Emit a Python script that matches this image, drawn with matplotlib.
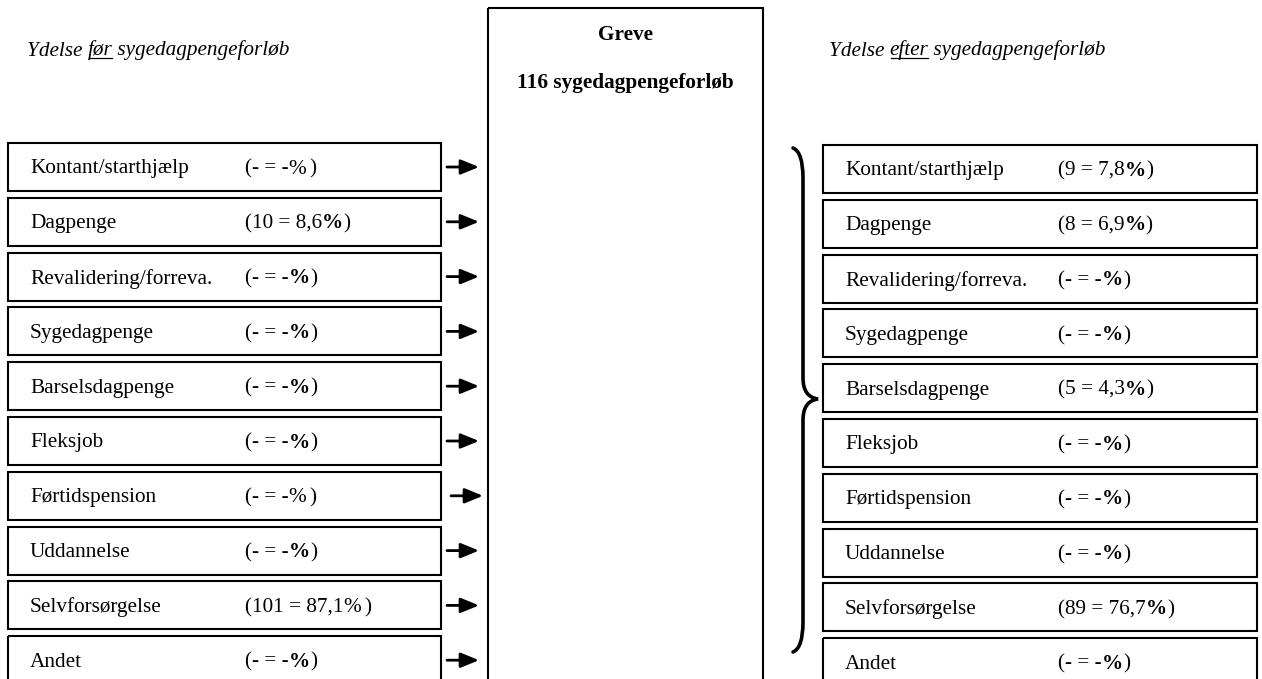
import matplotlib.pyplot as plt
from matplotlib.patches import Rectangle, PathPatch
from matplotlib.path import Path

#===== DATA =======================================#
kommune = 'Greve'
total_forloeb = 116
categories = ['Kontant/starthjælp', 'Dagpenge', 'Revalidering/forreva.', 'Sygedagpenge',
              'Barselsdagpenge', 'Fleksjob', 'Førtidspension', 'Uddannelse',
              'Selvforsørgelse', 'Andet']
before_n = [None, 10, None, None, None, None, None, None, 101, None]
before_pct = [None, '8,6', None, None, None, None, None, None, '87,1', None]
before_bold_pct = [False, True, True, True, True, True, False, True, False, True]
after_n = [9, 8, None, None, 5, None, None, None, 89, None]
after_pct = ['7,8', '6,9', None, None, '4,3', None, None, None, '76,7', None]
after_bold_pct = [True] * 10

#===== STYLE ======================================#
plt.rcParams['font.family'] = ['Liberation Serif', 'DejaVu Serif']
FS = 15.3
W, H = 1262, 679

fig = plt.figure(figsize=(W / 100, H / 100), dpi=100)
ax = fig.add_axes([0, 0, 1, 1])
ax.set_xlim(0, W)
ax.set_ylim(H, 0)
ax.axis('off')

row_top0 = 143
row_step = 54.8
row_h = 48
text_dy = 2  # glyphs sit a bit lower than the bbox centre
left_x0, left_x1 = 8, 441
right_x0, right_x1 = 823, 1257
center_x0, center_x1 = 488, 763


#===== FUNCTIONS ==================================#
#-- "(n = p%)" with an optional bold percent sign
def value_parts(ax, x, y, n, pct, bold):
    num = '-' if n is None else str(n)
    p = '-' if pct is None else pct
    t = ax.text(x, y, f'({num} = {p}', fontsize=FS, va='center', ha='left')
    t2 = ax.annotate('%', xy=(1, 0), xycoords=t, va='bottom', ha='left',
                     fontsize=FS, fontweight='bold' if bold else 'normal')
    ax.annotate(')', xy=(1, 0), xycoords=t2, xytext=(0 if bold else 2, 0),
                textcoords='offset points', va='bottom', ha='left', fontsize=FS)


#===== PROGRAM ====================================#
for i, cat in enumerate(categories):
    top = row_top0 + i * row_step
    yc = top + row_h / 2
    # left box
    ax.add_patch(Rectangle((left_x0, top), left_x1 - left_x0, row_h, fill=False,
                           lw=1.5, ec='black'))
    ax.text(left_x0 + 22, yc + text_dy, cat, fontsize=FS, va='center', ha='left')
    value_parts(ax, 245, yc + text_dy, before_n[i], before_pct[i], before_bold_pct[i])
    # arrow to center box
    ax0 = 447 if cat != 'Førtidspension' else 451
    ax.annotate('', xy=(ax0 + 32, yc), xytext=(ax0, yc),
                arrowprops=dict(arrowstyle='-|>,head_length=1.1,head_width=0.45',
                                lw=2, color='black', shrinkA=0, shrinkB=0))
    # right box
    rtop = top + 2
    ryc = rtop + row_h / 2
    ax.add_patch(Rectangle((right_x0, rtop), right_x1 - right_x0, row_h, fill=False,
                           lw=1.5, ec='black'))
    ax.text(right_x0 + 22, ryc + text_dy, cat, fontsize=FS, va='center', ha='left')
    value_parts(ax, 1058, ryc + text_dy, after_n[i], after_pct[i], after_bold_pct[i])

#-- center box
ax.add_patch(Rectangle((center_x0, 8), center_x1 - center_x0, H + 20, fill=False,
                       lw=1.5, ec='black'))
cx = (center_x0 + center_x1) / 2
ax.text(cx, 35, kommune, fontsize=FS, fontweight='bold', ha='center', va='center')
ax.text(cx, 83, f'{total_forloeb} sygedagpengeforløb', fontsize=FS, fontweight='bold',
        ha='center', va='center')

#-- headers with underlined word
underlined = []
for x, word in [(27, 'før'), (829, 'efter')]:
    a = ax.text(x, 51, 'Ydelse ', fontsize=FS, style='italic', va='center', ha='left')
    b = ax.annotate(word, xy=(1, 0), xycoords=a, va='bottom', ha='left',
                    fontsize=FS, style='italic')
    ax.annotate(' sygedagpengeforløb', xy=(1, 0), xycoords=b, va='bottom', ha='left',
                fontsize=FS, style='italic')
    underlined.append(b)

fig.canvas.draw()
inv = ax.transData.inverted()
for b in underlined:
    bb = b.get_window_extent()
    (x0, y0), (x1, y1) = inv.transform([(bb.x0, bb.y0), (bb.x1, bb.y1)])
    ax.plot([x0 + 1, x1 - 1], [y0 - 3, y0 - 3], color='black', lw=0.9)

#-- curly brace
verts = [(793, 148), (803, 152), (803, 178),
         (803, 378),
         (803, 397), (818, 399),
         (803, 401), (803, 420),
         (803, 622),
         (803, 648), (793, 652)]
codes = [Path.MOVETO, Path.CURVE3, Path.CURVE3,
         Path.LINETO,
         Path.CURVE3, Path.CURVE3,
         Path.CURVE3, Path.CURVE3,
         Path.LINETO,
         Path.CURVE3, Path.CURVE3]
ax.add_patch(PathPatch(Path(verts, codes), fill=False, lw=2.6, ec='black',
                       capstyle='round'))

fig.savefig('out.png', dpi=100)
